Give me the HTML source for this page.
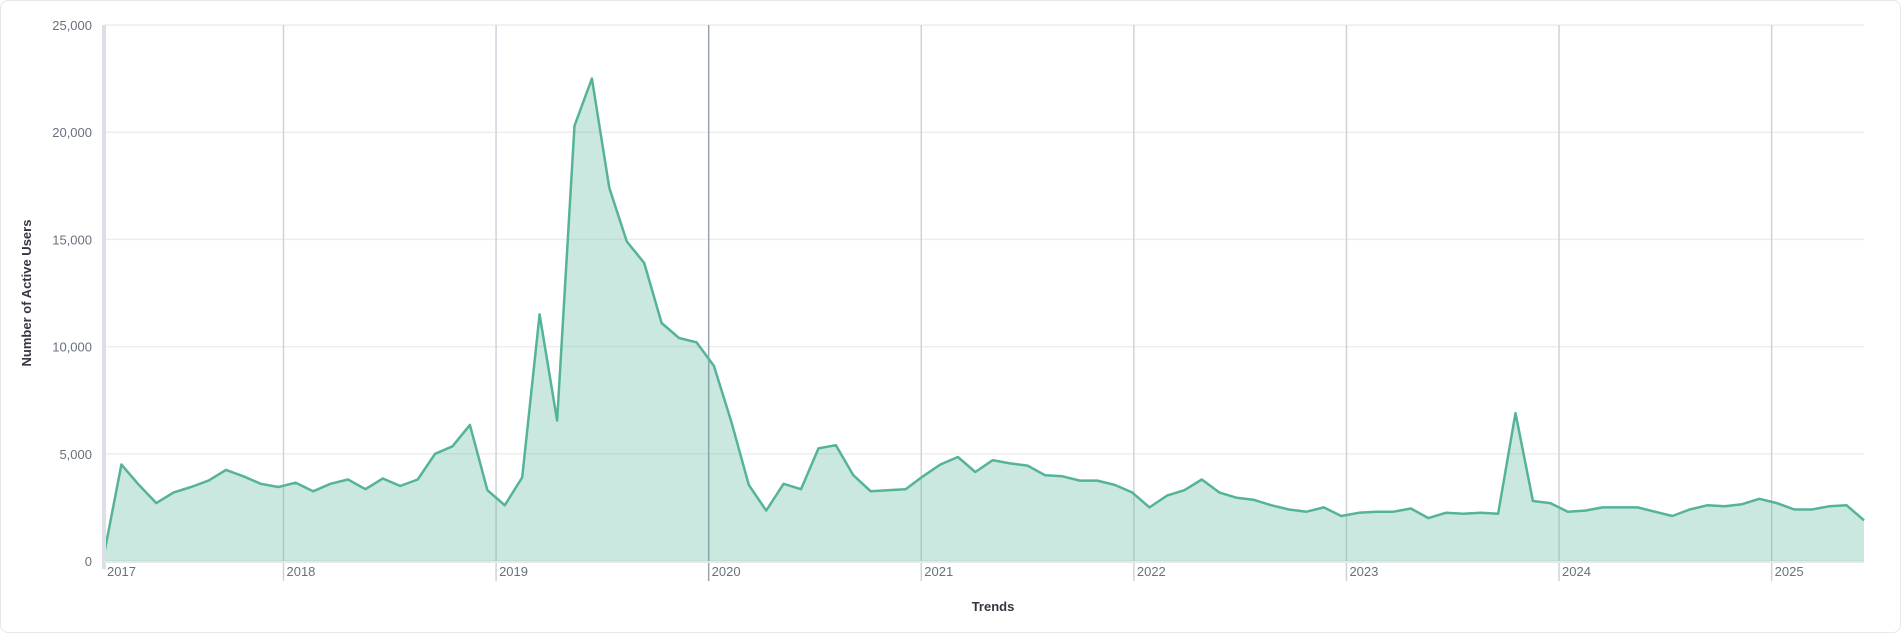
<!DOCTYPE html>
<html><head><meta charset="utf-8"><style>
html,body{margin:0;padding:0;background:#fff;}
body{width:1901px;height:633px;overflow:hidden;font-family:"Liberation Sans",sans-serif;}
#card{position:absolute;left:0;top:0;width:1899px;height:631px;border:1px solid #e6e8ee;border-radius:8px;}
</style></head><body>
<div id="card">
<svg id="chart" width="1901" height="633"></svg>
</div>
<script>
const values=[300,4500,3550,2700,3200,3450,3750,4250,3950,3600,3450,3650,3250,3600,3800,3350,3850,3500,3800,5000,5350,6350,3300,2600,3900,11500,6550,20300,22500,17400,14900,13900,11100,10400,10200,9100,6500,3550,2350,3600,3350,5250,5400,4000,3250,3300,3350,3950,4500,4850,4150,4700,4550,4450,4000,3950,3750,3750,3550,3200,2500,3050,3300,3800,3200,2950,2850,2600,2400,2300,2500,2100,2250,2300,2300,2450,2000,2250,2200,2250,2200,6900,2800,2700,2300,2350,2500,2500,2500,2300,2100,2400,2600,2550,2650,2900,2700,2400,2400,2550,2600,1900];
const yTicks=[0,5000,10000,15000,20000,25000];
const yTickLabels=["0","5,000","10,000","15,000","20,000","25,000"];
const yearLabels=["2017","2018","2019","2020","2021","2022","2023","2024","2025"];
const yearPos=[0,10.3,22.5,34.7,46.9,59.1,71.3,83.5,95.7]; // in month-index units

const svg=document.getElementById('chart');
const NS='http://www.w3.org/2000/svg';
const L=103,R=1863,T=24,B=560;
const x=i=>L+i*(R-L)/(values.length-1);
const y=v=>B-v/25000*(B-T);
function mk(tag,attrs,parent){const e=document.createElementNS(NS,tag);for(const k in attrs)e.setAttribute(k,attrs[k]);(parent||svg).appendChild(e);return e;}

yTicks.forEach((t,k)=>{
  const g=mk('line',{x1:L,x2:R,y1:y(t),y2:y(t),stroke:'#eeeeee','stroke-width':1.5});
  
  
  const tx=mk('text',{x:91,y:y(t)+5,'text-anchor':'end','font-size':13,fill:'#69707d'});
  tx.textContent=yTickLabels[k];
  
  
});
yearLabels.forEach((lab,k)=>{
  const xp=x(yearPos[k]);
  if(k>0){
    const g=mk('line',{x1:xp,x2:xp,y1:T,y2:B+20,stroke:k==3?'#98a2b3':'#cfd3d9','stroke-width':1.5});
    
    
  }
  const tx=mk('text',{x:xp+3,y:575,'font-size':13,fill:'#69707d'});
  tx.textContent=lab;
  
  
});
let d='M'+x(0)+','+y(values[0]);
values.forEach((v,i)=>{if(i)d+=' L'+x(i).toFixed(1)+','+y(v).toFixed(1);});
const area=mk('path',{d:d+' L'+x(values.length-1)+','+B+' L'+x(0)+','+B+' Z',fill:'rgba(84,179,153,0.3)',stroke:'none'});


const line=mk('path',{d:d,fill:'none',stroke:'#54b399','stroke-width':2.5,'stroke-linejoin':'round'});


const ax=mk('line',{x1:L,x2:L,y1:T,y2:B+8,stroke:'#dcdfe5','stroke-width':4});


const ax2=mk('line',{x1:L,x2:R,y1:B+1,y2:B+1,stroke:'#e5e7eb','stroke-width':2});


const yt=mk('text',{x:0,y:0,transform:'translate(30,292) rotate(-90)','text-anchor':'middle','font-size':13,'font-weight':'bold',fill:'#343741'});
yt.textContent='Number of Active Users';


const xt=mk('text',{x:992,y:610,'text-anchor':'middle','font-size':13,'font-weight':'bold',fill:'#343741'});
xt.textContent='Trends';


</script>
</body></html>
